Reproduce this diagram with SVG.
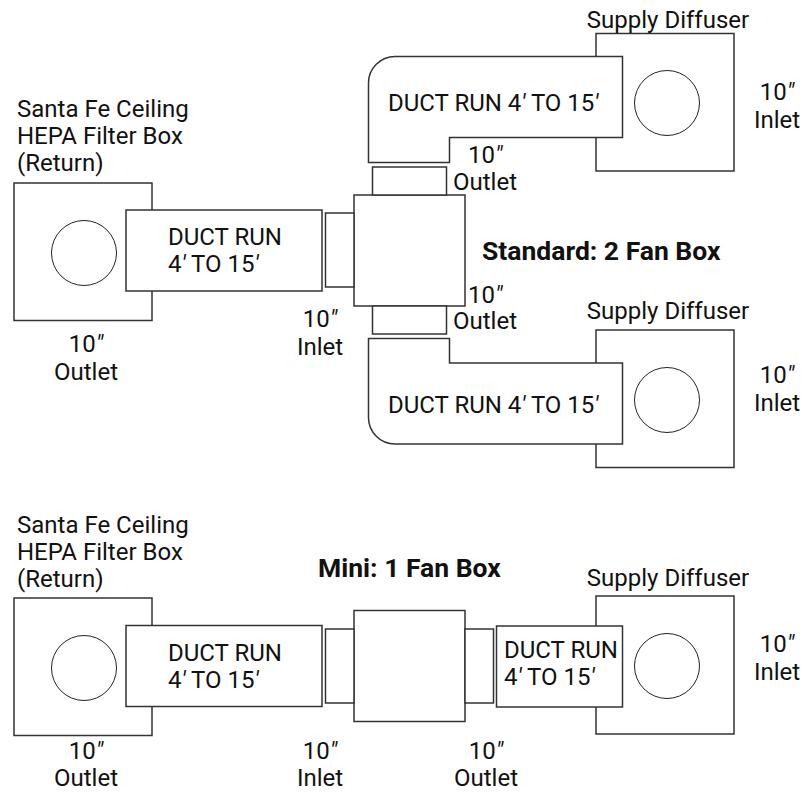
<svg xmlns="http://www.w3.org/2000/svg" width="805" height="792" viewBox="0 0 805 792">
<style>
.s{fill:#fff;stroke:#333;stroke-width:1.5}
.c{fill:#fff;stroke:#222;stroke-width:1}
text{font-family:Roboto,"Liberation Sans",sans-serif;font-size:24px;fill:#111}
.m{text-anchor:middle}
.b{font-weight:700;font-size:26.500px}
.p{font-style:italic}
</style>
<rect width="805" height="792" fill="#fff"/>
<g id="standard-return"><rect class="s" x="14" y="183" width="138" height="137.500"/><circle class="c" cx="84" cy="253" r="32.500"/>
<text x="17" y="117">Santa Fe Ceiling</text><text x="17" y="144">HEPA Filter Box</text><text x="17" y="171">(Return)</text>
<text class="m" x="86" y="352">10<tspan class="p">″</tspan></text><text class="m" x="86" y="380">Outlet</text></g>
<g id="standard-supply-top"><rect class="s" x="596" y="33.500" width="138" height="137.500"/><circle class="c" cx="667" cy="103" r="32.500"/>
<text class="m" x="668" y="28">Supply Diffuser</text><text class="m" x="777" y="100">10<tspan class="p">″</tspan></text><text class="m" x="777" y="128">Inlet</text></g>
<g id="standard-supply-bottom"><rect class="s" x="596" y="330" width="138" height="137.500"/><circle class="c" cx="667" cy="400" r="32.500"/>
<text class="m" x="668" y="319">Supply Diffuser</text><text class="m" x="777" y="383">10<tspan class="p">″</tspan></text><text class="m" x="777" y="411">Inlet</text></g>
<g id="standard-fan"><rect class="s" x="354" y="195" width="111" height="111"/>
<text x="482" y="260" class="b">Standard: 2 Fan Box</text></g>
<g id="connectors">
<g id="standard-run-return"><rect class="s" x="126" y="210" width="196" height="81"/><text x="168" y="245">DUCT RUN</text><text x="168" y="272">4<tspan class="p">′</tspan> TO 15<tspan class="p">′</tspan></text></g>
<g id="standard-inlet"><rect class="s" x="325.500" y="213" width="28.500" height="74"/><text class="m" x="320" y="327">10<tspan class="p">″</tspan></text><text class="m" x="320" y="355">Inlet</text></g>
<g id="standard-outlet-top"><rect class="s" x="372.500" y="167" width="74" height="28"/><text x="468" y="163">10<tspan class="p">″</tspan></text><text x="453" y="190">Outlet</text></g>
<g id="standard-outlet-bottom"><rect class="s" x="372.500" y="306" width="74" height="28"/><text x="468" y="303">10<tspan class="p">″</tspan></text><text x="453" y="329">Outlet</text></g>
<g id="standard-run-top"><path class="s" d="M368.500 162.500V83A26.500 26.500 0 0 1 395 56.500H622.500V137.500H449.500V162.500Z"/><text x="388" y="111">DUCT RUN 4<tspan class="p">′</tspan> TO 15<tspan class="p">′</tspan></text></g>
<g id="standard-run-bottom"><path class="s" d="M368.500 338.500V417.500A26.500 26.500 0 0 0 395 444H622.500V363H449.500V338.500Z"/><text x="388" y="413">DUCT RUN 4<tspan class="p">′</tspan> TO 15<tspan class="p">′</tspan></text></g>
</g>
<g id="mini-return"><rect class="s" x="14" y="598" width="138" height="137.500"/><circle class="c" cx="84" cy="668" r="32.500"/>
<text x="17" y="533">Santa Fe Ceiling</text><text x="17" y="560">HEPA Filter Box</text><text x="17" y="587">(Return)</text>
<text class="m" x="86" y="759">10<tspan class="p">″</tspan></text><text class="m" x="86" y="786">Outlet</text></g>
<g id="mini-supply"><rect class="s" x="596" y="596" width="138" height="138"/><circle class="c" cx="667" cy="666" r="32.500"/>
<text class="m" x="668" y="586">Supply Diffuser</text><text class="m" x="777" y="652">10<tspan class="p">″</tspan></text><text class="m" x="777" y="680">Inlet</text></g>
<g id="mini-fan"><rect class="s" x="354" y="610.500" width="111" height="111"/><text x="318" y="577" class="b">Mini: 1 Fan Box</text></g>
<g id="mini-parts">
<rect class="s" x="126" y="625.500" width="196" height="81"/><text x="168" y="661">DUCT RUN</text><text x="168" y="688">4<tspan class="p">′</tspan> TO 15<tspan class="p">′</tspan></text>
<rect class="s" x="325.500" y="629" width="28.500" height="74"/><text class="m" x="320" y="759">10<tspan class="p">″</tspan></text><text class="m" x="320" y="786">Inlet</text>
<rect class="s" x="465" y="629" width="28.500" height="74"/><text class="m" x="486" y="759">10<tspan class="p">″</tspan></text><text class="m" x="486" y="786">Outlet</text>
<rect class="s" x="496.500" y="626" width="126" height="81"/><text x="504" y="658">DUCT RUN</text><text x="504" y="685">4<tspan class="p">′</tspan> TO 15<tspan class="p">′</tspan></text>
</g>
</svg>
